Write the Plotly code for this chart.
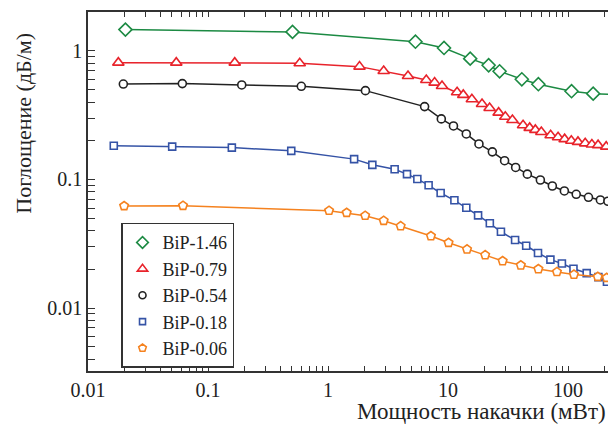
import plotly.graph_objects as go

# ---- data ----
names = ["BiP-1.46", "BiP-0.79", "BiP-0.54", "BiP-0.18", "BiP-0.06"]

x_146 = [0.0205, 0.506, 5.35, 9.26, 15.3, 21.8, 26.9, 41.2, 56.6, 107, 162, 250]
y_146 = [1.466, 1.406, 1.18, 1.055, 0.871, 0.774, 0.695, 0.602, 0.551, 0.486, 0.465, 0.458]

x_079 = [0.0179, 0.0544, 0.167, 0.581, 1.83, 2.91, 4.64, 6.59, 7.73, 8.91, 11.9, 13.4,
         15.8, 19.2, 22.2, 26.4, 30.0, 34.4, 42.2, 47.9, 53.4, 59.9, 71.6, 82.6, 93.7,
         106.5, 121, 139, 158, 178, 208]
y_079 = [0.811, 0.811, 0.811, 0.802, 0.755, 0.698, 0.639, 0.594, 0.567, 0.534, 0.477, 0.455,
         0.421, 0.387, 0.360, 0.331, 0.308, 0.290, 0.264, 0.252, 0.243, 0.234, 0.221, 0.213,
         0.206, 0.200, 0.196, 0.191, 0.187, 0.185, 0.180]

x_054 = [0.0197, 0.0611, 0.191, 0.599, 2.05, 6.38, 8.79, 11.1, 14.2, 18.1, 23.4, 29.6,
         36.6, 45.8, 58.8, 74.0, 93.2, 117, 148, 186, 215]
y_054 = [0.553, 0.557, 0.544, 0.531, 0.491, 0.369, 0.296, 0.261, 0.226, 0.189, 0.164, 0.140,
         0.124, 0.110, 0.0991, 0.0890, 0.0814, 0.0767, 0.0727, 0.0693, 0.0677]

x_018 = [0.0164, 0.0503, 0.158, 0.494, 1.65, 2.34, 3.59, 4.55, 5.55, 6.89, 8.68, 11.3,
         14.2, 17.8, 22.3, 27.6, 36.2, 44.8, 56.2, 71.3, 88.9, 111, 143, 179, 211]
y_018 = [0.183, 0.180, 0.177, 0.167, 0.144, 0.130, 0.120, 0.110, 0.101, 0.0901, 0.0785, 0.0689,
         0.0603, 0.0526, 0.0456, 0.0392, 0.0338, 0.0305, 0.0268, 0.0238, 0.0222, 0.0202,
         0.0187, 0.0174, 0.0160]

x_006 = [0.0200, 0.0619, 1.02, 1.43, 2.04, 2.91, 4.03, 7.20, 10.1, 14.4, 20.4, 28.5,
         40.4, 56.6, 80.8, 112, 177, 210]
y_006 = [0.0622, 0.0625, 0.0572, 0.0551, 0.0523, 0.0478, 0.0434, 0.0363, 0.0322, 0.0286,
         0.0258, 0.0232, 0.0215, 0.0201, 0.0191, 0.0182, 0.0175, 0.0172]

x_major = [0.01, 0.1, 1, 10, 100]
x_major_labels = ["0.01", "0.1", "1", "10", "100"]
y_major = [0.01, 0.1, 1]
y_major_labels = ["0.01", "0.1", "1"]

x_title = "Мощность накачки (мВт)"
y_title = "Поглощение (дБ/м)"

# ---- styles ----
colors = ["#1c8a43", "#e8232b", "#222222", "#3553a6", "#f5821f"]
symbols = ["diamond", "triangle-up", "circle", "square", "pentagon"]
sizes = [10, 10, 8, 7, 9]

series = [(x_146, y_146), (x_079, y_079), (x_054, y_054), (x_018, y_018), (x_006, y_006)]

fig = go.Figure()
for (xs, ys), c, s, sz in zip(series, colors, symbols, sizes):
    fig.add_trace(go.Scatter(
        x=xs, y=ys, mode="lines+markers", showlegend=False,
        line=dict(color=c, width=1.5),
        marker=dict(symbol=s, size=sz, color="white", line=dict(color=c, width=1.6)),
    ))
for n, c, s, sz in zip(names, colors, symbols, sizes):
    fig.add_trace(go.Scatter(
        x=[None], y=[None], mode="markers", name=n,
        marker=dict(symbol=s, size=sz - 1, color="white", line=dict(color=c, width=1.6)),
    ))

def minor_vals(decades, extra=()):
    vals = []
    for d in decades:
        for m in range(2, 10):
            vals.append(m * d)
    return vals + list(extra)

font_family = "Liberation Serif"
axis_col = "#333333"
txt_col = "#222222"

fig.update_layout(
    width=608, height=428,
    margin=dict(l=88, r=0, t=12, b=57, autoexpand=False),
    paper_bgcolor="white", plot_bgcolor="white",
    font=dict(family=font_family, size=20, color=txt_col),
    legend=dict(
        x=0.0635, y=0.413, xanchor="left", yanchor="top",
        bordercolor=axis_col, borderwidth=1.5, bgcolor="white",
        font=dict(family=font_family, size=18, color=txt_col),
        itemwidth=30, tracegroupgap=0,
    ),
    xaxis=dict(
        type="log", range=[-2.0, 2.333],
        tickmode="array", tickvals=x_major, ticktext=x_major_labels,
        ticks="inside", ticklen=5, tickwidth=1.2, tickcolor=axis_col,
        showline=True, linecolor=axis_col, linewidth=1.5, mirror="ticks",
        showgrid=False, zeroline=False,
        minor=dict(tickmode="array",
                   tickvals=minor_vals([0.01, 0.1, 1, 10], extra=[200]),
                   ticks="inside", ticklen=5, tickwidth=1.2, tickcolor=axis_col,
                   showgrid=False),
    ),
    yaxis=dict(
        type="log", range=[-2.49, 0.303],
        tickmode="array", tickvals=y_major, ticktext=y_major_labels,
        ticks="inside", ticklen=7, tickwidth=1.2, tickcolor=axis_col,
        showline=True, linecolor=axis_col, linewidth=1.5, mirror=False,
        showgrid=False, zeroline=False,
        minor=dict(tickmode="array",
                   tickvals=minor_vals([0.001, 0.01, 0.1], extra=[2]),
                   ticks="inside", ticklen=7, tickwidth=1.2, tickcolor=axis_col,
                   showgrid=False),
    ),
    annotations=[
        dict(text=x_title, xref="paper", yref="paper", x=1.0, y=-0.114,
             xanchor="right", yanchor="middle", showarrow=False,
             font=dict(family=font_family, size=23, color=txt_col)),
        dict(text=y_title, xref="paper", yref="paper", x=-0.123, y=0.689,
             xanchor="center", yanchor="middle", textangle=-90, showarrow=False,
             font=dict(family=font_family, size=22, color=txt_col)),
    ],
)

fig.write_html(
    "out.html",
    config={"displayModeBar": False},
    post_script="document.body.style.margin='0';document.body.style.overflow='hidden';",
)
